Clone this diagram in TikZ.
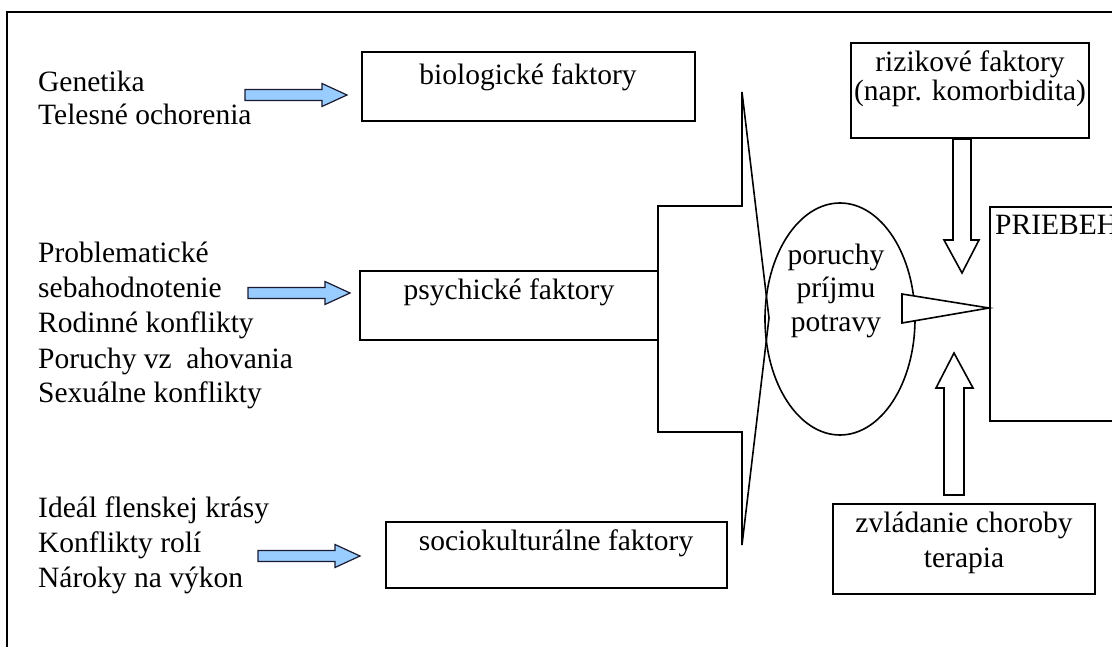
\documentclass[tikz,border=0pt]{standalone}
\usepackage{fontspec}
\setmainfont{Liberation Serif}
\definecolor{arrowblue}{HTML}{99CCFF}
\definecolor{arrowedge}{HTML}{1A1A33}
\tikzset{
  boxline/.style={draw, line width=1.6pt},
  tl/.style={anchor=base west, inner sep=0pt, font=\fontsize{29.5}{34}\selectfont},
  tc/.style={anchor=base, inner sep=0pt, font=\fontsize{29.5}{34}\selectfont},
  bluearr/.style={draw=arrowedge, fill=arrowblue, line width=1.2pt, line join=miter},
  hollowarr/.style={draw, fill=white, line width=1.6pt, line join=miter},
}
\newcommand\flatarrow[4]{%
  \draw[bluearr] (#1,#4-5.5) -- (#3,#4-5.5) -- (#3,#4-11.5) -- (#2,#4) -- (#3,#4+11.5) -- (#3,#4+5.5) -- (#1,#4+5.5) -- cycle;}
\begin{document}
\begin{tikzpicture}[x=1pt,y=-1pt]
\useasboundingbox (0,0) rectangle (1112,647);
\clip (0,0) rectangle (1112,647);
\fill[white] (0,0) rectangle (1112,647);
% outer frame
\draw[boxline] (7,12) rectangle (1150,700);

% left texts
\node[tl] (gen) at (38,92) {Genetika};
\node[tl] (tel) at (38,125) {Telesné ochorenia};
\node[tl] (pro) at (38,263) {Problematické};
\node[tl] (seb) at (38,298) {sebahodnotenie};
\node[tl] (rod) at (38,333) {Rodinné konflikty};
\node[tl] (vzt) at (38,368) {Poruchy vz\hspace{0.25em} ahovania};
\node[tl] (sex) at (38,402) {Sexuálne konflikty};
\node[tl] (ide) at (38,517) {Ideál flenskej krásy};
\node[tl] (kon) at (38,552) {Konflikty rolí};
\node[tl] (nar) at (38,587) {Nároky na výkon};

% blue arrows
\flatarrow{245}{347}{322}{95}
\flatarrow{248}{350}{325}{293}
\flatarrow{258}{360}{335}{556}

% factor boxes
\draw[boxline] (362,52) rectangle (695,121);
\node[tc] (bio) at (528,85) {biologické faktory};
\draw[boxline] (360,271) rectangle (658,340);
\node[tc] (psy) at (509,300) {psychické faktory};
\draw[boxline] (386,522) rectangle (727,588);
\node[tc] (soc) at (556,550) {sociokulturálne faktory};

% big converging arrow
\draw[boxline, line join=miter] (742,92) -- (769,318) -- (742,545) -- (742,432) -- (658,432) -- (658,206) -- (742,206) -- cycle;

% ellipse
\draw[line width=1.6pt] (840,319) ellipse [x radius=75, y radius=116];
\node[tc] (por) at (836,265) {poruchy};
\node[tc] (pri) at (836,298) {príjmu};
\node[tc] (pot) at (836,331) {potravy};

% small arrow to PRIEBEH
\draw[hollowarr] (902,294) -- (989,308) -- (902,323) -- cycle;

% PRIEBEH box
\draw[boxline] (990,207) rectangle (1200,421);
\node[tl] (prb) at (995,235) {PRIEBEH};

% risk box
\draw[boxline] (851,43) rectangle (1089,138);
\node[tc] (riz) at (970,72) {rizikové faktory};
\node[tc] (nap) at (970,101) {(napr. komorbidita)};
\draw[hollowarr] (953,139) -- (953,240) -- (944,240) -- (962,273) -- (979,240) -- (971,240) -- (971,139) -- cycle;

% therapy box
\draw[boxline] (833,504) rectangle (1095,594);
\node[tc] (zvl) at (964,532) {zvládanie choroby};
\node[tc] (ter) at (964,567) {terapia};
\draw[hollowarr] (944,495) -- (944,388) -- (936,388) -- (954,353) -- (973,388) -- (964,388) -- (964,495) -- cycle;
\end{tikzpicture}
\end{document}
